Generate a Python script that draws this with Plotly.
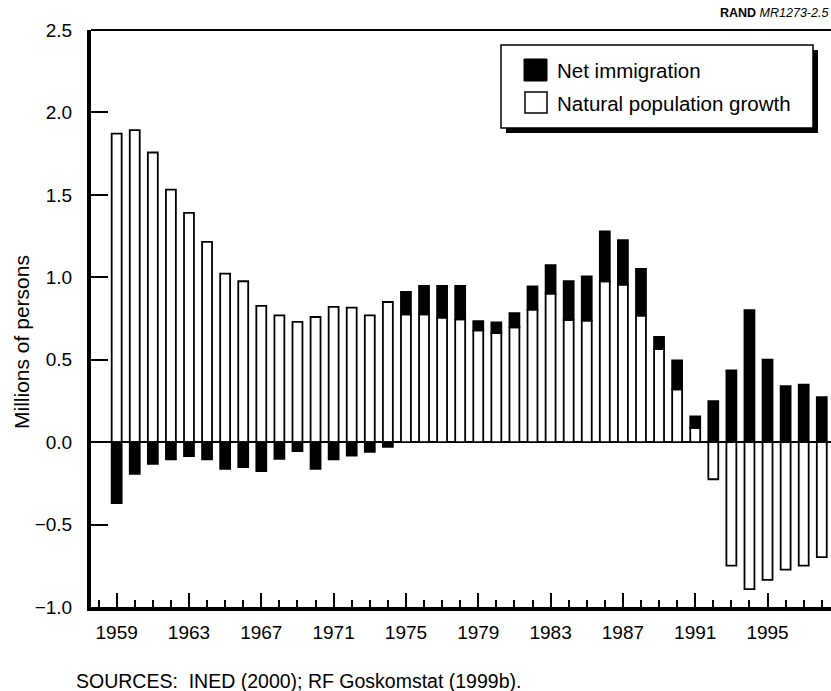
import plotly.graph_objects as go

# ---------------- data (millions of persons) ----------------
years = list(range(1959, 1999))

natural_growth = [
    1.872, 1.893, 1.757, 1.532, 1.391, 1.215, 1.022, 0.976, 0.826, 0.769,
    0.729, 0.759, 0.820, 0.816, 0.769, 0.850, 0.775, 0.775, 0.755, 0.745,
    0.678, 0.662, 0.696, 0.804, 0.901, 0.741, 0.737, 0.975, 0.955, 0.767,
    0.565, 0.320, 0.087, -0.225, -0.749, -0.891, -0.836, -0.773, -0.749, -0.698,
]

net_immigration = [
    -0.370, -0.192, -0.132, -0.105, -0.085, -0.105, -0.162, -0.152, -0.176, -0.101,
    -0.055, -0.162, -0.105, -0.081, -0.059, -0.028, 0.136, 0.172, 0.192, 0.202,
    0.056, 0.065, 0.087, 0.141, 0.172, 0.235, 0.269, 0.303, 0.270, 0.284,
    0.073, 0.176, 0.069, 0.249, 0.435, 0.800, 0.500, 0.340, 0.348, 0.273,
]

tick_years = list(range(1959, 1996, 4))
y_ticks = [-1.0, -0.5, 0.0, 0.5, 1.0, 1.5, 2.0, 2.5]

series_names = ["Net immigration", "Natural population growth"]
y_title = "Millions of persons"
source_note = "SOURCES:  INED (2000); RF Goskomstat (1999b)."
rand_label = "<b>RAND</b> <i>MR1273-2.5</i>"

# ---------------- layout geometry ----------------
W, H = 831, 691
L, RGT, TOP, BOT = 91, 831, 30, 607
FONT = "Liberation Sans, Arial, Helvetica, sans-serif"


def px_x(p):
    return (p - L) / (RGT - L)


def px_y(p):
    return (BOT - p) / (BOT - TOP)


fig = go.Figure()
fig.add_bar(
    x=years, y=natural_growth, name=series_names[1], width=0.55,
    marker=dict(color="white", line=dict(color="black", width=1.8)),
)
fig.add_bar(
    x=years, y=net_immigration, name=series_names[0], width=0.55,
    marker=dict(color="black", line=dict(color="black", width=1.8)),
)

fig.update_layout(
    width=W, height=H,
    barmode="relative",
    showlegend=False,
    template="none",
    paper_bgcolor="white", plot_bgcolor="white",
    font=dict(family=FONT, color="black", size=19),
    margin=dict(l=L, r=W - RGT, t=TOP, b=H - BOT, pad=0, autoexpand=False),
)

fig.update_xaxes(
    range=[1957.58, 1998.51],
    tickmode="array", tickvals=tick_years, ticktext=[str(y) for y in tick_years],
    ticks="inside", ticklen=14, tickwidth=1.5, tickcolor="black",
    minor=dict(ticks="inside", ticklen=7, tickwidth=1.5, tickcolor="black",
               tickmode="linear", tick0=1959, dtick=1, showgrid=False),
    showline=True, linewidth=4, linecolor="black",
    showgrid=False, zeroline=False,
    tickfont=dict(size=19, family=FONT, color="black"),
    ticklabelstandoff=5,
)

fig.update_yaxes(
    range=[-1.0, 2.5],
    tickmode="array", tickvals=y_ticks,
    ticktext=[("\u2212" if v < 0 else "") + f"{abs(v):.1f}" for v in y_ticks],
    ticks="inside", ticklen=17, tickwidth=1.5, tickcolor="black",
    showline=True, linewidth=4, linecolor="black",
    showgrid=False,
    zeroline=True, zerolinecolor="black", zerolinewidth=1.5,
    tickfont=dict(size=19, family=FONT, color="black"),
    ticklabelstandoff=11,
)

shapes = [
    # top frame line
    dict(type="line", xref="paper", yref="paper", x0=0, x1=1, y0=1, y1=1,
         line=dict(color="black", width=2)),
    # legend shadow
    dict(type="rect", xref="paper", yref="paper",
         x0=px_x(506), x1=px_x(818), y0=px_y(50), y1=px_y(133),
         fillcolor="black", line=dict(width=0)),
    # legend box
    dict(type="rect", xref="paper", yref="paper",
         x0=px_x(501), x1=px_x(813), y0=px_y(45), y1=px_y(128),
         fillcolor="white", line=dict(color="black", width=1.5)),
    # legend swatches
    dict(type="rect", xref="paper", yref="paper",
         x0=px_x(524), x1=px_x(547), y0=px_y(59), y1=px_y(81),
         fillcolor="black", line=dict(color="black", width=1)),
    dict(type="rect", xref="paper", yref="paper",
         x0=px_x(525), x1=px_x(547), y0=px_y(92), y1=px_y(113),
         fillcolor="white", line=dict(color="black", width=1.5)),
]

annotations = [
    dict(text=series_names[0], xref="paper", yref="paper",
         x=px_x(555), y=px_y(71), xanchor="left", yanchor="middle",
         showarrow=False, font=dict(size=20.5, family=FONT, color="black")),
    dict(text=series_names[1], xref="paper", yref="paper",
         x=px_x(555), y=px_y(103), xanchor="left", yanchor="middle",
         showarrow=False, font=dict(size=20.5, family=FONT, color="black")),
    dict(text=y_title, xref="paper", yref="paper", textangle=-90,
         x=px_x(21), y=px_y(342), xanchor="center", yanchor="middle",
         showarrow=False, font=dict(size=21, family=FONT, color="black")),
    dict(text=source_note, xref="paper", yref="paper",
         x=px_x(74), y=px_y(681), xanchor="left", yanchor="middle",
         showarrow=False, font=dict(size=19.5, family=FONT, color="black")),
    dict(text=rand_label, xref="paper", yref="paper",
         x=px_x(830), y=px_y(13), xanchor="right", yanchor="middle",
         showarrow=False, font=dict(size=12.5, family=FONT, color="black")),
]

fig.update_layout(shapes=shapes, annotations=annotations)

fig.write_html(
    "out.html",
    config={"displayModeBar": False},
    post_script="document.body.style.margin='0';document.body.style.overflow='hidden';",
)
